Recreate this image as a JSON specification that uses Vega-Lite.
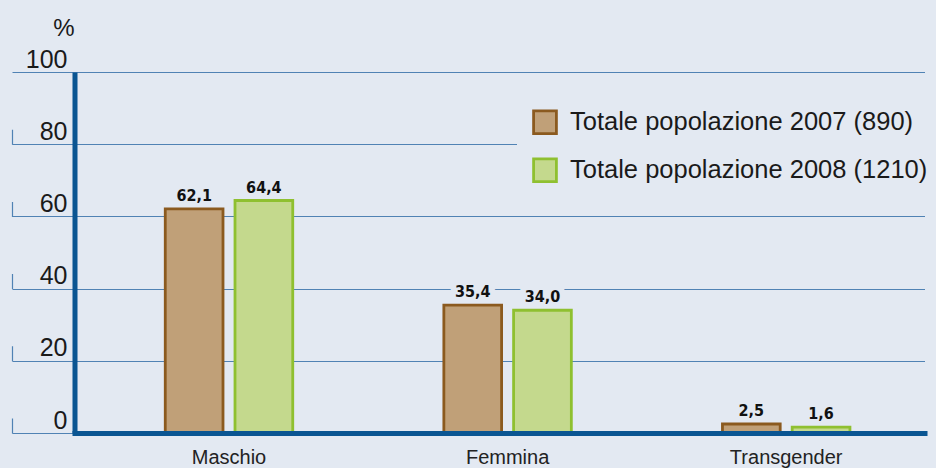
{
  "$schema": "https://vega.github.io/schema/vega-lite/v6.json",
  "autosize": {"type": "none"},
  "width": 850,
  "height": 361,
  "padding": {"left": 74.5, "top": 72, "right": 11.5, "bottom": 35},
  "background": "#e3e9f2",
  "config": {
    "view": {"stroke": null},
    "font": "Liberation Sans",
    "locale": {"number": {"decimal": ",", "thousands": ".", "grouping": [3], "currency": ["", " €"]}}
  },
  "data": {
    "values": [
      {"Categoria": "Maschio", "Serie": "Totale popolazione 2007 (890)", "Valore": 62.1},
      {"Categoria": "Maschio", "Serie": "Totale popolazione 2008 (1210)", "Valore": 64.4},
      {"Categoria": "Femmina", "Serie": "Totale popolazione 2007 (890)", "Valore": 35.4},
      {"Categoria": "Femmina", "Serie": "Totale popolazione 2008 (1210)", "Valore": 34.0},
      {"Categoria": "Transgender", "Serie": "Totale popolazione 2007 (890)", "Valore": 2.5},
      {"Categoria": "Transgender", "Serie": "Totale popolazione 2008 (1210)", "Valore": 1.6}
    ]
  },
  "encoding": {
    "x": {
      "field": "Categoria",
      "type": "nominal",
      "sort": ["Maschio", "Femmina", "Transgender"],
      "scale": {"paddingInner": 0.5424, "paddingOuter": 0.2967, "align": 0.549},
      "axis": {
        "orient": "bottom",
        "title": null,
        "domain": true,
        "domainColor": "#0a5592",
        "domainWidth": 5,
        "domainCap": "square",
        "ticks": false,
        "grid": false,
        "labelAngle": 0,
        "labelFontSize": 20,
        "labelColor": "#222222",
        "labelBaseline": "top",
        "labelPadding": 14,
        "zindex": 1
      }
    },
    "xOffset": {
      "field": "Serie",
      "type": "nominal",
      "scale": {"paddingInner": 0.172, "paddingOuter": 0}
    }
  },
  "layer": [
    {
      "mark": {
        "type": "text",
        "font": "DejaVu Sans Condensed, Liberation Sans",
        "fontWeight": "bold",
        "fontSize": 16,
        "baseline": "alphabetic",
        "dy": -8,
        "fill": "#e3e9f2",
        "stroke": "#e3e9f2",
        "strokeWidth": 12,
        "strokeJoin": "round"
      },
      "encoding": {
        "y": {
          "field": "Valore",
          "type": "quantitative",
          "scale": {"domain": [0, 100], "nice": false},
          "axis": {
            "orient": "left",
            "offset": 62.5,
            "values": [0, 20, 40, 60, 80, 100],
            "domain": true,
            "domainColor": "#5082b4",
            "domainWidth": 1.2,
            "domainDash": [15, 57.2],
            "ticks": false,
            "labels": false,
            "grid": false,
            "title": null,
            "zindex": 0
          }
        },
        "text": {"field": "Valore", "type": "quantitative", "format": ".1f"}
      }
    },
    {
      "mark": {"type": "bar", "strokeWidth": 2.8},
      "encoding": {
        "y": {
          "field": "Valore",
          "type": "quantitative",
          "scale": {"domain": [0, 100], "nice": false},
          "axis": {
            "orient": "left",
            "offset": 0,
            "values": [0, 20, 40, 60, 80, 100],
            "domain": true,
            "domainColor": "#0a5592",
            "domainWidth": 5,
            "ticks": true,
            "tickSize": 62.5,
            "tickColor": "#5082b4",
            "tickWidth": 1.2,
            "grid": true,
            "gridColor": "#5082b4",
            "gridWidth": 1.2,
            "labelAlign": "right",
            "labelBaseline": "alphabetic",
            "labelPadding": -55,
            "labelOffset": -5,
            "labelFontSize": 25,
            "labelColor": "#1a1a1a",
            "labelOverlap": false,
            "title": "%",
            "titleAngle": 0,
            "titleX": -11,
            "titleY": -37,
            "titleAlign": "center",
            "titleBaseline": "alphabetic",
            "titleFontSize": 24,
            "titleFontWeight": "normal",
            "titleColor": "#1a1a1a",
            "zindex": 0
          }
        },
        "fill": {
          "field": "Serie",
          "type": "nominal",
          "scale": {"range": ["#c0a078", "#c4d98d"]},
          "legend": {
            "orient": "none",
            "legendX": 442.5,
            "legendY": 22.3,
            "title": null,
            "fillColor": "#e3e9f2",
            "padding": 15,
            "symbolType": "square",
            "symbolSize": 520,
            "symbolStrokeWidth": 2.8,
            "labelFontSize": 25.5,
            "labelColor": "#1a1a1a",
            "labelOffset": 12,
            "rowPadding": 12,
            "labelLimit": 600
          }
        },
        "stroke": {
          "field": "Serie",
          "type": "nominal",
          "scale": {"range": ["#8b5a1f", "#8fc030"]},
          "legend": {
            "orient": "none",
            "legendX": 442.5,
            "legendY": 22.3,
            "title": null,
            "fillColor": "#e3e9f2",
            "padding": 15,
            "symbolType": "square",
            "symbolSize": 520,
            "symbolStrokeWidth": 2.8,
            "labelFontSize": 25.5,
            "labelColor": "#1a1a1a",
            "labelOffset": 12,
            "rowPadding": 12,
            "labelLimit": 600
          }
        }
      }
    },
    {
      "mark": {
        "type": "text",
        "font": "DejaVu Sans Condensed, Liberation Sans",
        "fontWeight": "bold",
        "fontSize": 16,
        "baseline": "alphabetic",
        "dy": -8,
        "color": "#111111"
      },
      "encoding": {
        "y": {
          "field": "Valore",
          "type": "quantitative",
          "scale": {"domain": [0, 100], "nice": false},
          "axis": null
        },
        "text": {"field": "Valore", "type": "quantitative", "format": ".1f"}
      }
    }
  ],
  "resolve": {"axis": {"y": "independent"}}
}
